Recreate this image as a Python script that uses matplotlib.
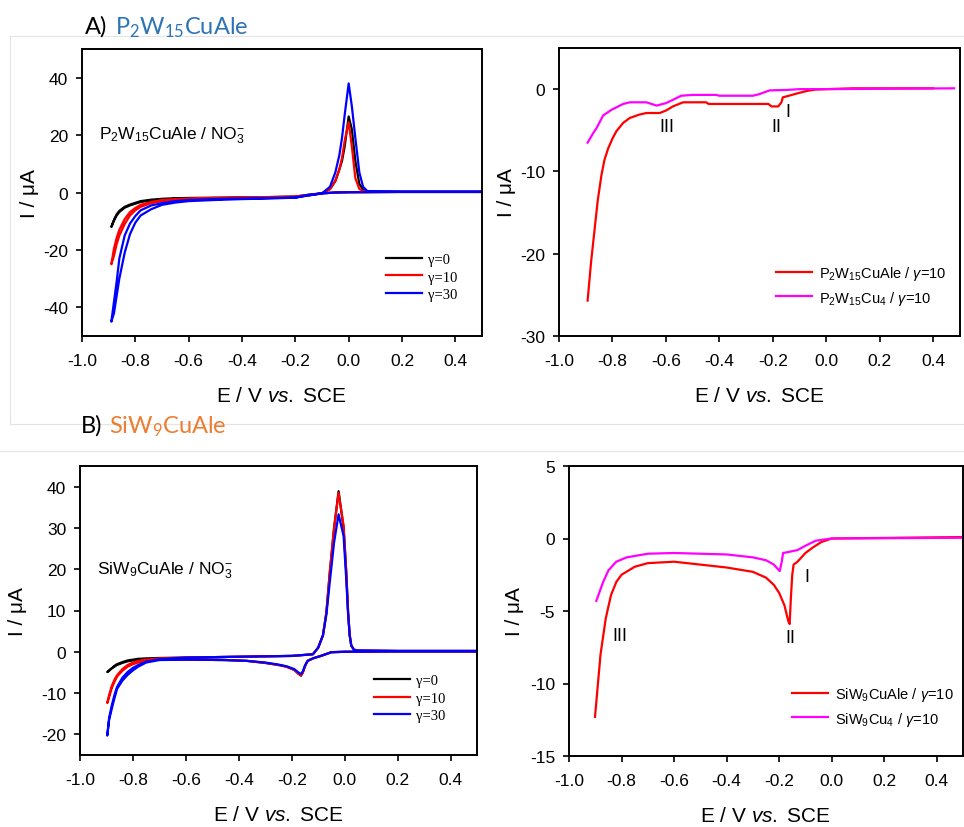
import matplotlib
matplotlib.use("Agg")
import matplotlib.pyplot as plt
from matplotlib.lines import Line2D

plt.rcParams["font.family"] = ["Liberation Sans", "DejaVu Sans"]
plt.rcParams["mathtext.fontset"] = "custom"
plt.rcParams["mathtext.rm"] = "Liberation Sans"
plt.rcParams["mathtext.it"] = "Liberation Sans:italic"
plt.rcParams["axes.unicode_minus"] = False

# ---- A, left: CVs of P2W15CuAle / NO3- (cathodic sweep, then anodic sweep) ----
E_A_cath = [0.5, 0.2, 0.0, -0.05, -0.10, -0.15, -0.20, -0.30, -0.40, -0.50, -0.60, -0.65,
            -0.70, -0.74, -0.78, -0.80, -0.82, -0.84, -0.86, -0.87, -0.88, -0.89]
E_A_anod = [-0.89, -0.88, -0.87, -0.86, -0.84, -0.82, -0.80, -0.78, -0.74, -0.70, -0.65,
            -0.60, -0.50, -0.40, -0.30, -0.20, -0.15, -0.10, -0.07, -0.05, -0.035, -0.025,
            -0.015, 0.0, 0.012, 0.025, 0.04, 0.054, 0.07, 0.2, 0.5]

I_A0_cath = [0.2, 0.2, 0.1, 0.0, -0.3, -0.8, -1.4, -1.6, -1.7, -1.8, -1.9, -2.0,
             -2.2, -2.5, -3.0, -3.6, -4.2, -5.0, -6.4, -7.6, -9.5, -12.0]
I_A0_anod = [-12.3, -9.8, -8.0, -6.8, -5.3, -4.5, -3.9, -3.3, -2.8, -2.5, -2.2,
             -2.1, -2.0, -1.9, -1.8, -1.6, -1.0, -0.3, 1.2, 4.0, 8.0, 11.0,
             16.0, 26.5, 22.0, 11.0, 3.0, 1.0, 0.4, 0.2, 0.2]

I_A10_cath = [0.2, 0.2, 0.1, 0.0, -0.3, -0.8, -1.4, -1.6, -1.7, -1.9, -2.1, -2.3,
              -2.6, -3.3, -4.3, -5.4, -6.8, -9.3, -13.0, -15.8, -19.5, -25.0]
I_A10_anod = [-26.0, -22.0, -18.0, -15.0, -11.0, -8.0, -6.2, -5.0, -3.7, -3.0, -2.6,
              -2.3, -2.1, -1.9, -1.8, -1.6, -1.0, -0.3, 1.2, 4.0, 8.0, 12.0,
              18.0, 24.5, 16.0, 5.0, 1.2, 0.5, 0.3, 0.2, 0.2]

I_A30_cath = [0.2, 0.2, 0.1, 0.0, -0.3, -0.8, -1.8, -1.9, -2.1, -2.3, -2.6, -3.0,
              -3.7, -4.5, -6.2, -8.2, -10.8, -15.0, -23.0, -31.0, -38.0, -45.0]
I_A30_anod = [-45.0, -42.0, -36.0, -30.0, -21.0, -14.5, -10.5, -8.0, -5.8, -4.3, -3.5,
              -3.0, -2.6, -2.3, -2.1, -1.8, -1.0, -0.3, 2.0, 7.0, 13.0, 19.0,
              27.0, 38.0, 30.0, 19.0, 7.0, 2.0, 0.5, 0.3, 0.3]

# ---- A, right: linear sweeps, gamma = 10 ----
E_A_cuale = [-0.893, -0.88, -0.866, -0.855, -0.841, -0.83, -0.816, -0.80, -0.785, -0.76,
             -0.735, -0.70, -0.673, -0.623, -0.60, -0.574, -0.536, -0.45, -0.44, -0.30,
             -0.217, -0.205, -0.18, -0.168, -0.163, -0.14, -0.107, -0.07, -0.04, 0.0, 0.1, 0.4]
I_A_cuale = [-25.7, -21.0, -16.8, -13.5, -10.4, -8.6, -7.2, -6.0, -5.1, -4.1,
             -3.5, -3.1, -2.9, -2.9, -2.6, -2.1, -1.6, -1.6, -1.8, -1.8,
             -1.8, -2.1, -2.1, -1.6, -1.0, -0.8, -0.5, -0.2, -0.05, 0.0, 0.1, 0.1]
E_A_cu4 = [-0.893, -0.875, -0.859, -0.835, -0.803, -0.76, -0.735, -0.673, -0.635, -0.60,
           -0.574, -0.543, -0.50, -0.412, -0.40, -0.275, -0.25, -0.212, -0.15, -0.10, 0.0, 0.478]
I_A_cu4 = [-6.5, -5.5, -4.7, -3.2, -2.5, -1.8, -1.6, -1.6, -2.0, -1.7,
           -1.3, -0.8, -0.7, -0.7, -0.8, -0.8, -0.6, -0.15, -0.1, 0.0, 0.0, 0.1]

# ---- B, left: CVs of SiW9CuAle / NO3- ----
E_B_cath = [0.5, 0.2, 0.0, -0.05, -0.09, -0.12, -0.14, -0.15, -0.158, -0.165, -0.175, -0.19,
            -0.22, -0.25, -0.30, -0.37, -0.45, -0.60, -0.70, -0.75, -0.78, -0.80, -0.82,
            -0.84, -0.86, -0.87, -0.88, -0.89, -0.897]
E_B_anod = [-0.897, -0.89, -0.88, -0.87, -0.86, -0.84, -0.82, -0.80, -0.78, -0.75, -0.70,
            -0.60, -0.40, -0.20, -0.12, -0.10, -0.082, -0.069, -0.056, -0.04, -0.023, -0.004,
            0.006, 0.013, 0.019, 0.025, 0.035, 0.05, 0.2, 0.5]

I_B0_cath = [0.1, 0.1, 0.0, -0.1, -1.0, -1.6, -2.2, -3.5, -5.0, -5.8, -5.3, -4.4,
             -3.6, -3.2, -2.7, -2.2, -2.0, -1.9, -1.9, -1.9, -2.0, -2.1, -2.3,
             -2.7, -3.2, -3.6, -4.0, -4.5, -4.9]
I_B0_anod = [-4.9, -4.6, -4.0, -3.4, -3.0, -2.5, -2.1, -1.9, -1.7, -1.6, -1.5,
             -1.4, -1.2, -1.0, -0.6, 1.0, 4.0, 9.6, 19.4, 30.0, 38.9, 30.0,
             19.4, 9.6, 4.0, 1.5, 0.5, 0.3, 0.2, 0.2]

I_B10_cath = [0.1, 0.1, 0.0, -0.1, -1.0, -1.6, -2.2, -3.5, -5.0, -5.7, -5.3, -4.4,
              -3.6, -3.2, -2.7, -2.2, -2.0, -1.9, -1.9, -2.3, -2.6, -3.0, -3.6,
              -4.6, -6.0, -7.3, -8.8, -11.0, -12.4]
I_B10_anod = [-12.4, -10.5, -8.3, -6.8, -5.7, -4.2, -3.2, -2.6, -2.2, -1.9, -1.6,
              -1.4, -1.2, -1.0, -0.6, 1.0, 4.0, 9.6, 19.4, 30.0, 38.5, 30.5,
              19.4, 9.6, 4.0, 1.5, 0.5, 0.3, 0.2, 0.2]

I_B30_cath = [0.1, 0.1, 0.0, -0.1, -1.0, -1.6, -2.2, -3.3, -4.7, -5.4, -5.0, -4.2,
              -3.5, -3.1, -2.6, -2.2, -2.0, -1.9, -2.0, -2.6, -3.6, -4.5, -5.6,
              -7.0, -9.0, -11.3, -13.8, -16.5, -20.3]
I_B30_anod = [-20.3, -16.0, -13.0, -10.5, -8.5, -6.3, -4.9, -3.9, -3.2, -2.4, -1.8,
              -1.4, -1.2, -1.0, -0.6, 1.0, 4.0, 9.0, 17.0, 26.5, 33.3, 28.0,
              17.5, 9.0, 4.0, 1.5, 0.5, 0.3, 0.2, 0.2]

# ---- B, right: linear sweeps, gamma = 10 ----
E_B_cuale = [-0.901, -0.88, -0.86, -0.84, -0.82, -0.80, -0.75, -0.70, -0.60, -0.50, -0.40,
             -0.30, -0.25, -0.22, -0.20, -0.18, -0.165, -0.16, -0.155, -0.15, -0.145,
             -0.13, -0.10, -0.07, -0.04, 0.0, 0.5]
I_B_cuale = [-12.3, -8.0, -5.5, -3.9, -3.0, -2.5, -1.95, -1.7, -1.6, -1.8, -2.0,
             -2.3, -2.7, -3.2, -3.75, -4.6, -5.7, -5.9, -4.0, -2.5, -1.8,
             -1.6, -1.0, -0.6, -0.25, 0.0, 0.1]
E_B_cu4 = [-0.896, -0.87, -0.85, -0.82, -0.78, -0.70, -0.60, -0.50, -0.40, -0.30, -0.25,
           -0.22, -0.198, -0.19, -0.185, -0.17, -0.13, -0.10, -0.06, 0.0, 0.5]
I_B_cu4 = [-4.3, -3.0, -2.2, -1.6, -1.3, -1.05, -1.0, -1.05, -1.1, -1.3, -1.5,
           -1.8, -2.25, -1.6, -1.0, -0.95, -0.8, -0.5, -0.15, 0.0, 0.05]

gamma_labels = ["\u03b3=0", "\u03b3=10", "\u03b3=30"]
cv_colors = ["#000000", "#ff0000", "#0000ff"]
x_ticks = [-1.0, -0.8, -0.6, -0.4, -0.2, 0.0, 0.2, 0.4]

LW = 1.6


def style_axes(ax, ylim, yticks, ypad):
    ax.set_xlim(-1.0, 0.5)
    ax.set_ylim(*ylim)
    ax.set_xticks(x_ticks)
    ax.set_xticklabels([f"{t:.1f}" for t in x_ticks])
    ax.set_yticks(yticks)
    ax.tick_params(axis="both", direction="out", length=4, width=1.2,
                   labelsize=12.5, top=False, right=False)
    ax.tick_params(axis="x", pad=8)
    ax.tick_params(axis="y", pad=6)
    for s in ax.spines.values():
        s.set_linewidth(1.4)
    ax.set_xlabel(r"E / V $\mathit{vs.}$ SCE", fontsize=15, labelpad=13)
    ax.set_ylabel("I / \u03bcA", fontsize=15, labelpad=ypad)


fig = plt.figure(figsize=(9.64, 8.28), dpi=100)

# faint panel frames from the source document
gray = "#e4e4e4"
fig.add_artist(Line2D([10 / 964, 1.0], [1 - 37 / 828, 1 - 37 / 828], color=gray, lw=0.8))
fig.add_artist(Line2D([10 / 964, 10 / 964], [1 - 37 / 828, 1 - 425 / 828], color=gray, lw=0.8))
fig.add_artist(Line2D([10 / 964, 1.0], [1 - 425 / 828, 1 - 425 / 828], color=gray, lw=0.8))
fig.add_artist(Line2D([0.0, 1.0], [1 - 452 / 828, 1 - 452 / 828], color=gray, lw=0.8))

# section titles
fig.text(85 / 964, 1 - 34 / 828, "A)", fontsize=17, family="Lato", color="black", va="baseline")
fig.text(115 / 964, 1 - 34 / 828, r"P$_\mathregular{2}$W$_\mathregular{15}$CuAle",
         fontsize=17, family="Lato", color="#2E75B6", va="baseline")
fig.text(81 / 964, 1 - 433 / 828, "B)", fontsize=17, family="Lato", color="black", va="baseline")
fig.text(109 / 964, 1 - 433 / 828, r"SiW$_\mathregular{9}$CuAle",
         fontsize=17, family="Lato", color="#ED7D31", va="baseline")

# ---- panel A left ----
ax1 = fig.add_axes([82 / 964, 1 - 337 / 828, 400 / 964, 287 / 828])
A_cath = [I_A0_cath, I_A10_cath, I_A30_cath]
A_anod = [I_A0_anod, I_A10_anod, I_A30_anod]
for ic, ia, c, lab in zip(A_cath, A_anod, cv_colors, gamma_labels):
    ax1.plot(E_A_cath + E_A_anod[1:], ic + ia[1:], color=c, lw=LW, label=lab)
style_axes(ax1, (-50, 50), [-40, -20, 0, 20, 40], 3)
ax1.text(-0.935, 20, r"P$_\mathregular{2}$W$_\mathregular{15}$CuAle / NO$_\mathregular{3}^\mathregular{-}$",
         fontsize=12.5, va="center", ha="left")
ax1.legend(loc="upper left", bbox_to_anchor=(0.76, 0.29), frameon=False,
           prop={"family": "Liberation Serif", "size": 10.5}, handlelength=2.5,
           handletextpad=0.4, labelspacing=0.3, borderpad=0, borderaxespad=0)

# ---- panel A right ----
ax2 = fig.add_axes([559 / 964, 1 - 337 / 828, 401 / 964, 288 / 828])
ax2.plot(E_A_cuale, I_A_cuale, color="#ff0000", lw=LW,
         label=r"P$_\mathregular{2}$W$_\mathregular{15}$CuAle / $\gamma$=10")
ax2.plot(E_A_cu4, I_A_cu4, color="#ff00ff", lw=LW,
         label=r"P$_\mathregular{2}$W$_\mathregular{15}$Cu$_\mathregular{4}$ / $\gamma$=10")
style_axes(ax2, (-30, 5), [-30, -20, -10, 0], 3)
ax2.text(-0.597, -4.5, "III", fontsize=13, ha="center", va="center")
ax2.text(-0.187, -4.5, "II", fontsize=13, ha="center", va="center")
ax2.text(-0.142, -2.7, "I", fontsize=13, ha="center", va="center")
ax2.legend(loc="upper left", bbox_to_anchor=(0.54, 0.25), frameon=False,
           fontsize=10.5, handlelength=2.5, handletextpad=0.5, labelspacing=0.45,
           borderpad=0, borderaxespad=0)

# ---- panel B left ----
ax3 = fig.add_axes([80 / 964, 1 - 756 / 828, 397 / 964, 289 / 828])
B_cath = [I_B0_cath, I_B10_cath, I_B30_cath]
B_anod = [I_B0_anod, I_B10_anod, I_B30_anod]
for ic, ia, c, lab in zip(B_cath, B_anod, cv_colors, gamma_labels):
    ax3.plot(E_B_cath + E_B_anod[1:], ic + ia[1:], color=c, lw=LW, label=lab)
style_axes(ax3, (-25, 45), [-20, -10, 0, 10, 20, 30, 40], 10)
ax3.text(-0.937, 19.8, r"SiW$_\mathregular{9}$CuAle / NO$_\mathregular{3}^\mathregular{-}$",
         fontsize=12.5, va="center", ha="left")
ax3.legend(loc="upper left", bbox_to_anchor=(0.74, 0.28), frameon=False,
           prop={"family": "Liberation Serif", "size": 10.5}, handlelength=2.5,
           handletextpad=0.4, labelspacing=0.3, borderpad=0, borderaxespad=0)

# ---- panel B right ----
ax4 = fig.add_axes([569 / 964, 1 - 757 / 828, 394 / 964, 290 / 828])
ax4.plot(E_B_cuale, I_B_cuale, color="#ff0000", lw=LW,
         label=r"SiW$_\mathregular{9}$CuAle / $\gamma$=10")
ax4.plot(E_B_cu4, I_B_cu4, color="#ff00ff", lw=LW,
         label=r"SiW$_\mathregular{9}$Cu$_\mathregular{4}$ / $\gamma$=10")
style_axes(ax4, (-15, 5), [-15, -10, -5, 0, 5], 4)
ax4.text(-0.806, -6.7, "III", fontsize=13, ha="center", va="center")
ax4.text(-0.157, -6.85, "II", fontsize=13, ha="center", va="center")
ax4.text(-0.094, -2.65, "I", fontsize=13, ha="center", va="center")
ax4.legend(loc="upper left", bbox_to_anchor=(0.565, 0.245), frameon=False,
           fontsize=10.5, handlelength=2.5, handletextpad=0.5, labelspacing=0.45,
           borderpad=0, borderaxespad=0)

fig.savefig("out.png", dpi=100, facecolor="white")
